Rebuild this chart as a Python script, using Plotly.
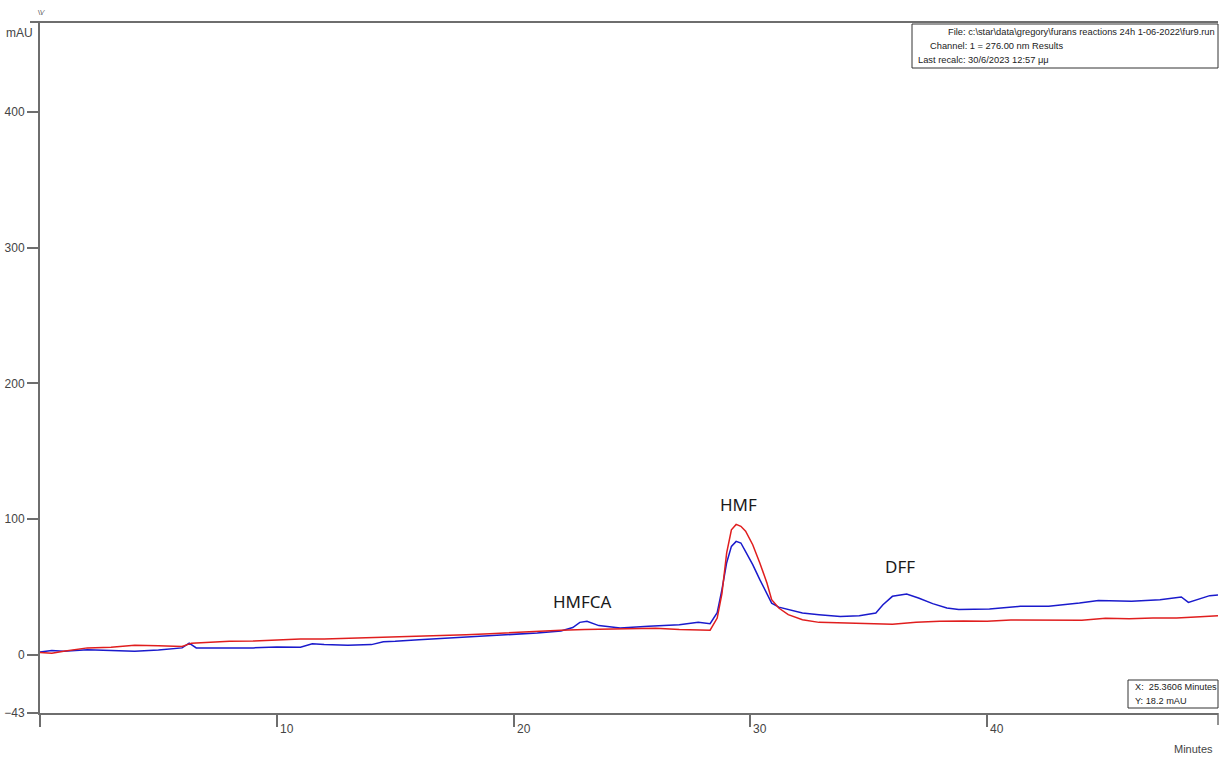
import plotly.graph_objects as go

# ---- data ----
red_x = [0, 0.5, 1, 2, 3, 4, 5, 6, 6.4, 7, 8, 9, 10, 11, 12, 13, 14, 15, 16, 17, 18, 19, 20,
         21, 22, 23, 24, 25, 26, 27, 28, 28.3, 28.6, 28.8, 29.0, 29.2, 29.4, 29.6, 29.8, 30.1,
         30.4, 30.7, 30.9, 31.2, 31.6, 32.2, 32.9, 33.8, 34.6, 35.3, 36, 37, 38, 39, 40, 41,
         42, 43, 44, 45, 46, 47, 48, 49, 49.75]
red_y = [1.5, 1.0, 2.5, 5, 5.5, 7, 6.5, 6, 8.5, 9, 9.8, 10, 11, 11.5, 11.5, 12, 12.3, 13, 13.5,
         14, 14.7, 15.5, 16.5, 17.2, 18, 18.5, 18.9, 19.2, 19.5, 18.6, 18.2, 18, 27, 45, 75, 92,
         96, 94.6, 91, 81, 67.6, 52.8, 40.5, 34.4, 29.5, 25.8, 23.8, 23.3, 22.8, 22.5, 22.5,
         23.8, 24.6, 24.8, 24.6, 25.5, 25.3, 25, 25.3, 26.8, 26.5, 27, 27, 28, 28.7]

blue_x = [0, 0.5, 1, 2, 3, 4, 5, 6, 6.3, 6.6, 7, 8, 9, 10, 11, 11.5, 12, 13, 14, 14.5, 15, 16,
          17, 18, 19, 20, 21, 22, 22.5, 22.8, 23.1, 23.6, 24.5, 25.7, 27, 27.8, 28.3, 28.6,
          28.8, 29.0, 29.2, 29.4, 29.6, 29.8, 30.1, 30.4, 30.7, 30.9, 31.2, 31.6, 32.2, 32.9,
          33.8, 34.6, 35.3, 35.6, 36.0, 36.6, 37.1, 37.7, 38.3, 38.8, 40.1, 41.4, 42.6, 43.9,
          44.7, 46.1, 47.3, 48.2, 48.5, 49.4, 49.75]
blue_y = [2, 3, 2.5, 3.7, 3, 2.5, 3.5, 5, 8.5, 5, 5, 5, 5, 5.6, 5.5, 8, 7.4, 7, 7.4, 9.5, 9.8,
          11, 12, 13, 13.5, 14.5, 16, 17.5, 20, 23.8, 24.6, 21.4, 19.6, 20.9, 22, 23.8, 22.8,
          31, 48, 67.8, 79.8, 83.5, 82.3, 76, 66.3, 55.3, 45.5, 38, 35, 33.2, 30.7, 29.5, 28.2,
          28.7, 30.7, 36.8, 43, 44.7, 41.8, 37.6, 34.4, 33.2, 33.7, 35.6, 35.6, 38, 40, 39.3,
          40.5, 42.5, 38.5, 43.5, 44]

y_ticks = [-43, 0, 100, 200, 300, 400]
x_ticks = [0, 10, 20, 30, 40]
x_labels = ["", "10", "20", "30", "40"]

peaks = [("HMFCA", 22.9, 39), ("HMF", 29.5, 111), ("DFF", 36.3, 65)]

info_lines = ["File: c:\\star\\data\\gregory\\furans reactions 24h 1-06-2022\\fur9.run",
              "Channel: 1 = 276.00 nm Results",
              "Last recalc: 30/6/2023 12:57 μμ"]
cursor_lines = ["X:  25.3606 Minutes", "Y: 18.2 mAU"]

# ---- layout geometry ----
W, H = 1225, 759
L, R, T, B = 40, 1218, 22, 713
def px(xp):
    return (xp - L) / (R - L)
def py(yp):
    return (B - yp) / (B - T)

AX = "#6e6e6e"
FONT = "Liberation Sans, Arial, sans-serif"

fig = go.Figure()
fig.add_trace(go.Scatter(x=blue_x, y=blue_y, mode="lines",
                         line=dict(color="#1a1acc", width=1.5), showlegend=False))
fig.add_trace(go.Scatter(x=red_x, y=red_y, mode="lines",
                         line=dict(color="#e01e1e", width=1.5), showlegend=False))

annotations = []
for name, xv, yv in peaks:
    annotations.append(dict(x=xv, y=yv, xref="x", yref="y", text=name, showarrow=False,
                            font=dict(family="Noto Sans, Open Sans, sans-serif", size=17, color="#1a1a1a"),
                            xanchor="center", yanchor="middle"))
for v, t in zip(x_ticks, x_labels):
    if t:
        annotations.append(dict(x=v, y=0, xref="x", yref="paper", text=t, showarrow=False,
                                xanchor="left", yanchor="middle", xshift=1, yshift=-16,
                                font=dict(family=FONT, size=12, color="#444")))
annotations.append(dict(x=px(35), y=py(33), xref="paper", yref="paper", text="mAU",
                        showarrow=False, xanchor="right", yanchor="middle",
                        font=dict(family=FONT, size=12, color="#444")))
annotations.append(dict(x=px(1215), y=py(749), xref="paper", yref="paper", text="Minutes",
                        showarrow=False, xanchor="right", yanchor="middle",
                        font=dict(family=FONT, size=11, color="#444")))
annotations.append(dict(x=px(41), y=py(12), xref="paper", yref="paper", text="\\\\⁄",
                        showarrow=False, xanchor="center", yanchor="middle",
                        font=dict(family=FONT, size=8, color="#555")))

# info box top-right
info_x = [946, 928, 916]
info_y = [32, 46, 60]
for t, xx, yy in zip(info_lines, info_x, info_y):
    annotations.append(dict(x=px(xx), y=py(yy), xref="paper", yref="paper", text=t,
                            showarrow=False, xanchor="left", yanchor="middle",
                            font=dict(family=FONT, size=9.3, color="#222")))
for t, yy in zip(cursor_lines, [687, 701]):
    annotations.append(dict(x=px(1133), y=py(yy), xref="paper", yref="paper", text=t,
                            showarrow=False, xanchor="left", yanchor="middle",
                            font=dict(family=FONT, size=9.2, color="#222")))

shapes = [
    dict(type="rect", xref="paper", yref="paper", x0=px(912), x1=px(1218), y0=py(68), y1=py(24),
         line=dict(color="#333", width=1), fillcolor="white", layer="above"),
    dict(type="rect", xref="paper", yref="paper", x0=px(1128), x1=px(1218), y0=py(708), y1=py(680),
         line=dict(color="#333", width=1), fillcolor="white", layer="above"),
    dict(type="line", xref="paper", yref="paper", x0=px(30), x1=1, y0=1, y1=1,
         line=dict(color=AX, width=2)),
    dict(type="line", xref="paper", yref="paper", x0=1, x1=1, y0=0, y1=py(725),
         line=dict(color=AX, width=1.5)),
]

fig.update_layout(
    width=W, height=H,
    margin=dict(l=L, r=W - R, t=T, b=H - B, autoexpand=False),
    paper_bgcolor="white", plot_bgcolor="white",
    annotations=annotations, shapes=shapes,
    xaxis=dict(range=[0, 49.75], tickvals=x_ticks, ticktext=[""] * len(x_ticks),
               ticks="outside", ticklen=12, tickwidth=1.5, tickcolor=AX, automargin=False,
               showline=True, linecolor=AX, linewidth=2, showgrid=False, zeroline=False,
               fixedrange=True),
    yaxis=dict(range=[-43, 466.3], tickvals=y_ticks, ticks="outside", ticklen=11,
               tickwidth=1.5, tickcolor=AX, showline=True, linecolor=AX, linewidth=2,
               showgrid=False, zeroline=False, automargin=False,
               tickfont=dict(family=FONT, size=12, color="#444"), fixedrange=True),
    font=dict(family=FONT),
)

fig.write_html("out.html")
